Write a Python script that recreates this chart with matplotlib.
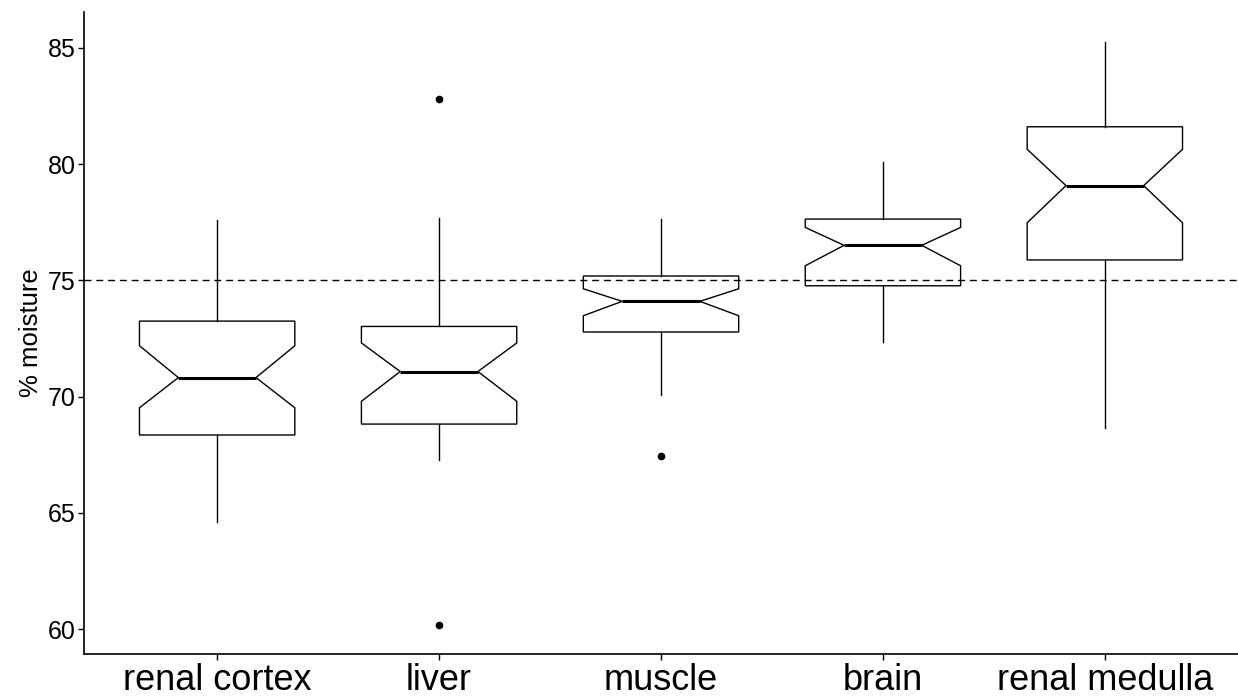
import matplotlib
matplotlib.use("Agg")
import matplotlib.pyplot as plt

plt.rcParams['font.family'] = ['Liberation Sans', 'DejaVu Sans']

categories = ["renal cortex", "liver", "muscle", "brain", "renal medulla"]
q1 = [68.35, 68.82, 72.78, 74.77, 75.88]
med = [70.82, 71.08, 74.10, 76.51, 79.08]
q3 = [73.25, 73.02, 75.19, 77.64, 81.61]
whislo = [64.60, 67.28, 70.05, 72.36, 68.66]
whishi = [77.60, 77.70, 77.66, 80.11, 85.27]
notch_lo = [69.52, 69.80, 73.48, 75.63, 77.48]
notch_hi = [72.19, 72.31, 74.64, 77.28, 80.64]
outliers = [[], [82.8, 60.17], [67.45], [], []]
ref_line = 75
y_ticks = [60, 65, 70, 75, 80, 85]

stats = []
for i, c in enumerate(categories):
    stats.append(dict(label=c, med=med[i], q1=q1[i], q3=q3[i],
                      whislo=whislo[i], whishi=whishi[i],
                      cilo=notch_lo[i], cihi=notch_hi[i],
                      fliers=outliers[i]))

W, H = 1238, 700
fig = plt.figure(figsize=(W / 100, H / 100), dpi=100)
ax = fig.add_axes([84 / W, (H - 653.5) / H, (W - 84) / W, (653.5 - 12.4) / H])

ax.axhline(ref_line, color='black', lw=1.0, linestyle=(0, (5, 3.5)), zorder=1)

ax.bxp(stats, positions=range(1, len(categories) + 1), widths=0.7,
       shownotches=True, showcaps=False, patch_artist=True,
       boxprops=dict(facecolor='none', edgecolor='black', linewidth=1.0),
       whiskerprops=dict(color='black', linewidth=1.0),
       medianprops=dict(color='black', linewidth=2.2, solid_capstyle='butt'),
       flierprops=dict(marker='o', markerfacecolor='black', markeredgecolor='black',
                       markersize=4.5, linestyle='none'),
       zorder=2)

ax.set_xlim(0.4, 5.6)
ax.set_ylim(58.95, 86.53)
ax.set_yticks(y_ticks)
ax.set_xticks(range(1, len(categories) + 1))
ax.set_xticklabels(categories, fontsize=26)
ax.tick_params(axis='y', labelsize=18, length=4, width=1.0, colors='black', pad=2)
ax.tick_params(axis='x', length=4, width=1.0, colors='black', pad=3)
ax.set_ylabel("% moisture", fontsize=18.5, labelpad=3)

for s in ['top', 'right']:
    ax.spines[s].set_visible(False)
for s in ['left', 'bottom']:
    ax.spines[s].set_linewidth(1.2)
    ax.spines[s].set_color('black')

fig.savefig("out.png", dpi=100)
